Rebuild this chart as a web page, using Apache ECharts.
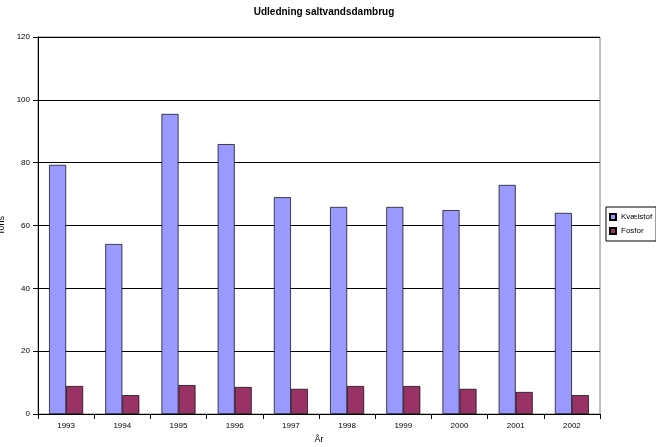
<!DOCTYPE html>
<html><head><meta charset="utf-8">
<script src="https://cdn.jsdelivr.net/npm/echarts@6/dist/echarts.min.js"></script>
<style>body{margin:0}#c{width:656px;height:447px}</style>
</head><body><div id="c"></div>
<script>
var years = ['1993','1994','1995','1996','1997','1998','1999','2000','2001','2002'];
var kvaelstof = [79.3, 54.1, 95.5, 85.9, 69, 65.9, 65.9, 64.9, 72.9, 64];
var fosfor = [8.9, 6, 9.2, 8.6, 8, 8.9, 8.9, 8, 7, 6];

var chart = echarts.init(document.getElementById('c'));
var font = 'Liberation Sans';
chart.setOption({
	animation : false,
	textStyle : { fontFamily : font },
	title : {
		text : 'Udledning saltvandsdambrug',
		left : 319, top : 2, textAlign : 'center',
		textStyle : { fontSize : 10, fontWeight : 'bold', color : '#000', fontFamily : font }
	},
	legend : {
		orient : 'vertical', left : 606, top : 207,
		icon : 'rect',
		itemWidth : 6, itemHeight : 6, itemGap : 6,
		padding : [6, 4, 6, 3],
		borderColor : '#000', borderWidth : 1,
		textStyle : { fontSize : 8, color : '#000' },
		data : ['Kvælstof', 'Fosfor']
	},
	grid : { left : 38, top : 37, width : 562, height : 377, containLabel : false, outerBoundsMode : 'none',
		show : true, borderColor : '#808080', borderWidth : 1 },
	xAxis : {
		type : 'category', data : years,
		name : 'År', nameLocation : 'middle', nameGap : 17,
		nameTextStyle : { fontSize : 9, color : '#000' },
		axisLine : { lineStyle : { color : '#000' } },
		axisTick : { show : true, lineStyle : { color : '#000' } },
		axisLabel : { fontSize : 8, color : '#000' }
	},
	yAxis : {
		type : 'value', min : 0, max : 120, interval : 20,
		name : 'Tons', nameLocation : 'middle', nameGap : 24,
		nameTextStyle : { fontSize : 9, color : '#000' },
		axisLine : { show : true, lineStyle : { color : '#000' } },
		axisTick : { show : true, lineStyle : { color : '#000' } },
		axisLabel : { fontSize : 8, color : '#000' },
		splitLine : { lineStyle : { color : '#000' } }
	},
	series : [{
		name : 'Kvælstof', type : 'bar', data : kvaelstof,
		barWidth : 17, barGap : '0%',
		itemStyle : { color : '#9999FF', borderColor : '#000', borderWidth : 0.7 }
	}, {
		name : 'Fosfor', type : 'bar', data : fosfor,
		barWidth : 17,
		itemStyle : { color : '#993366', borderColor : '#000', borderWidth : 0.7 }
	}]
});
</script></body></html>
